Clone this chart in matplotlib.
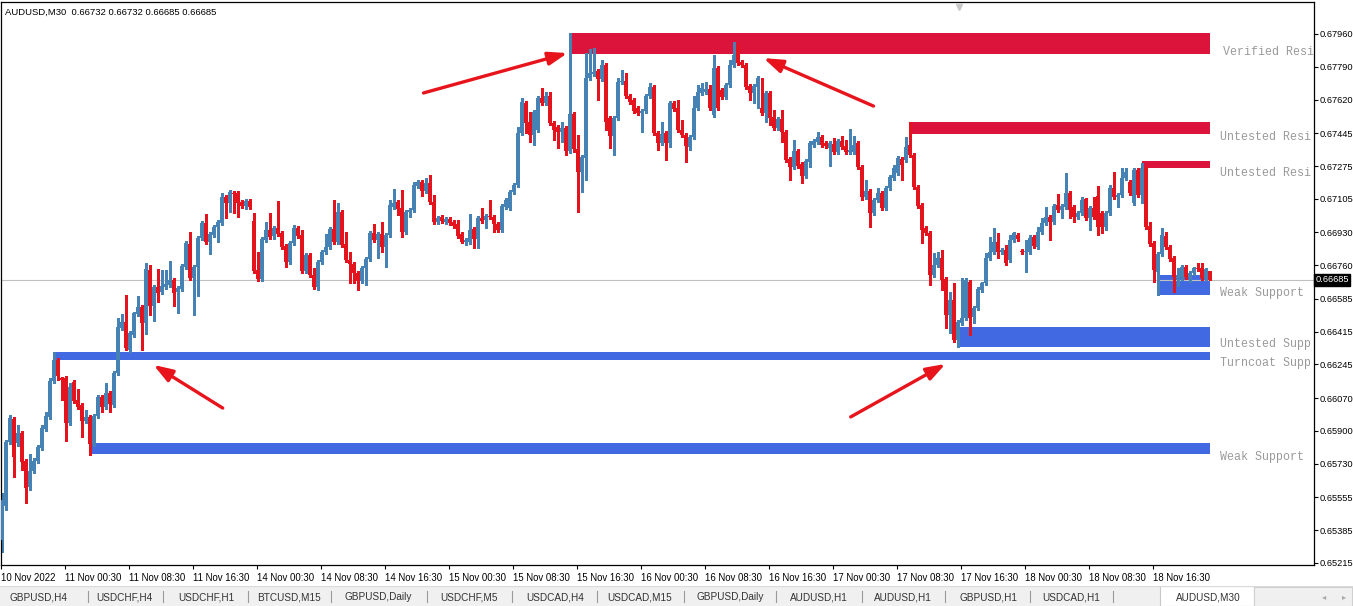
import matplotlib
matplotlib.use("Agg")
import matplotlib.pyplot as plt
import numpy as np
from matplotlib.patches import Rectangle
from matplotlib.transforms import blended_transform_factory, offset_copy

# ---------------- data (AUDUSD M30 candles) ----------------
opens = [
0.65334, 0.65511, 0.65843, 0.65962, 0.65838, 0.65890, 0.65744, 0.65609, 0.65692, 0.65744,
0.65812, 0.65910, 0.65973, 0.66159, 0.66268, 0.66175, 0.66175, 0.65941, 0.66154, 0.66061,
0.66035, 0.65952, 0.65973, 0.65832, 0.65978, 0.66076, 0.66024, 0.66097, 0.66035, 0.66201,
0.66434, 0.66465, 0.66320, 0.66398, 0.66507, 0.66543, 0.66460, 0.66735, 0.66549, 0.66647,
0.66621, 0.66647, 0.66658, 0.66684, 0.66621, 0.66637, 0.66751, 0.66870, 0.66694, 0.66751,
0.66901, 0.66979, 0.66881, 0.66917, 0.66959, 0.66979, 0.67114, 0.67083, 0.67135, 0.67135,
0.67088, 0.67068, 0.67093, 0.66990, 0.66735, 0.66689, 0.66891, 0.66943, 0.66912, 0.66953,
0.66927, 0.66860, 0.66777, 0.66875, 0.66953, 0.66917, 0.66730, 0.66813, 0.66710, 0.66647,
0.66777, 0.66829, 0.66855, 0.66948, 0.66881, 0.67036, 0.66870, 0.66787, 0.66767, 0.66720,
0.66678, 0.66746, 0.66792, 0.66927, 0.66891, 0.66922, 0.66855, 0.66917, 0.67062, 0.67088,
0.67057, 0.66933, 0.67036, 0.67047, 0.67171, 0.67192, 0.67145, 0.67187, 0.67088, 0.66985,
0.67010, 0.66985, 0.67000, 0.66985, 0.66974, 0.66922, 0.66881, 0.66881, 0.66948, 0.66896,
0.67005, 0.66995, 0.67016, 0.67010, 0.66974, 0.66943, 0.67062, 0.67057, 0.67140, 0.67176,
0.67446, 0.67602, 0.67503, 0.67436, 0.67462, 0.67628, 0.67602, 0.67638, 0.67498, 0.67477,
0.67451, 0.67472, 0.67353, 0.67545, 0.67363, 0.67244, 0.67316, 0.67732, 0.67753, 0.67768,
0.67726, 0.67799, 0.67524, 0.67431, 0.67524, 0.67711, 0.67716, 0.67638, 0.67618, 0.67576,
0.67550, 0.67560, 0.67638, 0.67685, 0.67446, 0.67394, 0.67446, 0.67394, 0.67602, 0.67576,
0.67462, 0.67436, 0.67374, 0.67426, 0.67576, 0.67654, 0.67659, 0.67675, 0.67540, 0.67784,
0.67669, 0.67633, 0.67695, 0.67799, 0.67887, 0.67815, 0.67799, 0.67690, 0.67654, 0.67685,
0.67576, 0.67550, 0.67654, 0.67529, 0.67472, 0.67519, 0.67451, 0.67311, 0.67270, 0.67353,
0.67285, 0.67223, 0.67296, 0.67384, 0.67400, 0.67426, 0.67394, 0.67368, 0.67389, 0.67348,
0.67405, 0.67379, 0.67348, 0.67348, 0.67394, 0.67270, 0.67114, 0.67145, 0.67031, 0.67099,
0.67135, 0.67057, 0.67161, 0.67213, 0.67239, 0.67311, 0.67306, 0.67384, 0.67332, 0.67166,
0.67073, 0.66953, 0.66927, 0.66710, 0.66761, 0.66798, 0.66689, 0.66502, 0.66580, 0.66372,
0.66460, 0.66486, 0.66673, 0.66491, 0.66538, 0.66632, 0.66668, 0.66798, 0.66829, 0.66881,
0.66829, 0.66839, 0.66787, 0.66891, 0.66917, 0.66834, 0.66829, 0.66829, 0.66907, 0.66855,
0.66933, 0.66979, 0.67010, 0.66985, 0.67073, 0.67047, 0.67062, 0.67135, 0.67062, 0.67010,
0.67031, 0.67104, 0.67005, 0.67057, 0.67119, 0.67031, 0.66959, 0.67031, 0.67161, 0.67114,
0.67125, 0.67213, 0.67192, 0.67083, 0.67254, 0.67125, 0.67265, 0.66964, 0.66875, 0.66725,
0.66818, 0.66912, 0.66855, 0.66798, 0.66694, 0.66699, 0.66751, 0.66699, 0.66720, 0.66746,
0.66746, 0.66694, 0.66732]

highs = [
0.65578, 0.65853, 0.65983, 0.65973, 0.65931, 0.65900, 0.65755, 0.65781, 0.65760, 0.65827,
0.65931, 0.65998, 0.66175, 0.66310, 0.66279, 0.66180, 0.66185, 0.66149, 0.66165, 0.66118,
0.66045, 0.66009, 0.65983, 0.65988, 0.66087, 0.66087, 0.66149, 0.66107, 0.66211, 0.66486,
0.66507, 0.66606, 0.66419, 0.66517, 0.66600, 0.66554, 0.66772, 0.66761, 0.66658, 0.66741,
0.66735, 0.66735, 0.66782, 0.66694, 0.66652, 0.66767, 0.66886, 0.66933, 0.66761, 0.66912,
0.66990, 0.67026, 0.66933, 0.66969, 0.66995, 0.67135, 0.67125, 0.67151, 0.67145, 0.67145,
0.67099, 0.67104, 0.67104, 0.67031, 0.66829, 0.66907, 0.66985, 0.67031, 0.66964, 0.67093,
0.66938, 0.66870, 0.66886, 0.66969, 0.66964, 0.66943, 0.66824, 0.66824, 0.66746, 0.66787,
0.66839, 0.66922, 0.66959, 0.67099, 0.67083, 0.67047, 0.66933, 0.66829, 0.66777, 0.66730,
0.66756, 0.66803, 0.66938, 0.66974, 0.66933, 0.66985, 0.66927, 0.67099, 0.67156, 0.67099,
0.67151, 0.67047, 0.67057, 0.67192, 0.67202, 0.67202, 0.67213, 0.67228, 0.67125, 0.67016,
0.67021, 0.67010, 0.67010, 0.66995, 0.66995, 0.66933, 0.66901, 0.67026, 0.66959, 0.67016,
0.67057, 0.67026, 0.67099, 0.67021, 0.66985, 0.67078, 0.67109, 0.67151, 0.67187, 0.67477,
0.67628, 0.67612, 0.67555, 0.67566, 0.67638, 0.67680, 0.67659, 0.67659, 0.67508, 0.67488,
0.67503, 0.67482, 0.67965, 0.67555, 0.67436, 0.67332, 0.67862, 0.67882, 0.67887, 0.67778,
0.67825, 0.67810, 0.67534, 0.67534, 0.67732, 0.67773, 0.67758, 0.67649, 0.67628, 0.67586,
0.67571, 0.67649, 0.67706, 0.67695, 0.67457, 0.67503, 0.67457, 0.67612, 0.67612, 0.67618,
0.67514, 0.67446, 0.67436, 0.67638, 0.67695, 0.67706, 0.67711, 0.67695, 0.67851, 0.67794,
0.67680, 0.67706, 0.67825, 0.67918, 0.67908, 0.67825, 0.67810, 0.67700, 0.67700, 0.67742,
0.67732, 0.67664, 0.67664, 0.67566, 0.67529, 0.67566, 0.67462, 0.67322, 0.67410, 0.67363,
0.67296, 0.67311, 0.67405, 0.67415, 0.67451, 0.67436, 0.67405, 0.67405, 0.67420, 0.67415,
0.67431, 0.67410, 0.67467, 0.67431, 0.67405, 0.67280, 0.67202, 0.67156, 0.67109, 0.67161,
0.67145, 0.67171, 0.67228, 0.67280, 0.67327, 0.67322, 0.67426, 0.67503, 0.67342, 0.67176,
0.67083, 0.66964, 0.66938, 0.66824, 0.66829, 0.66839, 0.66699, 0.66621, 0.66668, 0.66476,
0.66694, 0.66694, 0.66684, 0.66549, 0.66647, 0.66673, 0.66824, 0.66907, 0.66953, 0.66927,
0.66850, 0.66865, 0.66917, 0.66933, 0.66927, 0.66844, 0.66891, 0.66917, 0.66917, 0.66959,
0.67005, 0.67062, 0.67021, 0.67078, 0.67130, 0.67078, 0.67239, 0.67145, 0.67073, 0.67042,
0.67114, 0.67109, 0.67068, 0.67114, 0.67171, 0.67042, 0.67042, 0.67176, 0.67244, 0.67135,
0.67265, 0.67265, 0.67202, 0.67265, 0.67265, 0.67291, 0.67275, 0.66985, 0.66886, 0.66829,
0.66953, 0.66933, 0.66865, 0.66808, 0.66746, 0.66761, 0.66761, 0.66730, 0.66751, 0.66772,
0.66772, 0.66746, 0.66732]

lows = [
0.65272, 0.65490, 0.65832, 0.65661, 0.65822, 0.65698, 0.65526, 0.65594, 0.65682, 0.65734,
0.65801, 0.65900, 0.65962, 0.66149, 0.66165, 0.66061, 0.65848, 0.65931, 0.66045, 0.66014,
0.65869, 0.65941, 0.65775, 0.65822, 0.65967, 0.65998, 0.66014, 0.65998, 0.66024, 0.66191,
0.66424, 0.66320, 0.66310, 0.66388, 0.66497, 0.66320, 0.66403, 0.66502, 0.66471, 0.66569,
0.66611, 0.66637, 0.66647, 0.66549, 0.66512, 0.66626, 0.66741, 0.66684, 0.66502, 0.66600,
0.66891, 0.66870, 0.66818, 0.66907, 0.66881, 0.66969, 0.67005, 0.67036, 0.67031, 0.67010,
0.67057, 0.67052, 0.67052, 0.66720, 0.66678, 0.66678, 0.66881, 0.66896, 0.66896, 0.66912,
0.66844, 0.66751, 0.66767, 0.66865, 0.66901, 0.66720, 0.66720, 0.66699, 0.66637, 0.66632,
0.66767, 0.66818, 0.66844, 0.66870, 0.66870, 0.66855, 0.66777, 0.66668, 0.66668, 0.66632,
0.66668, 0.66658, 0.66782, 0.66881, 0.66798, 0.66829, 0.66751, 0.66907, 0.67052, 0.67021,
0.66907, 0.66922, 0.67010, 0.67036, 0.67161, 0.67119, 0.67135, 0.67078, 0.66974, 0.66974,
0.66979, 0.66974, 0.66969, 0.66953, 0.66901, 0.66875, 0.66865, 0.66870, 0.66849, 0.66849,
0.66979, 0.66953, 0.67000, 0.66933, 0.66933, 0.66933, 0.67052, 0.67047, 0.67130, 0.67166,
0.67436, 0.67446, 0.67400, 0.67384, 0.67451, 0.67592, 0.67592, 0.67488, 0.67410, 0.67368,
0.67400, 0.67332, 0.67342, 0.67348, 0.67036, 0.67140, 0.67202, 0.67721, 0.67742, 0.67618,
0.67716, 0.67462, 0.67368, 0.67332, 0.67514, 0.67700, 0.67628, 0.67597, 0.67550, 0.67540,
0.67451, 0.67550, 0.67628, 0.67436, 0.67358, 0.67384, 0.67306, 0.67374, 0.67560, 0.67451,
0.67426, 0.67296, 0.67358, 0.67415, 0.67566, 0.67643, 0.67649, 0.67566, 0.67529, 0.67566,
0.67623, 0.67623, 0.67685, 0.67789, 0.67799, 0.67789, 0.67675, 0.67618, 0.67602, 0.67576,
0.67540, 0.67503, 0.67488, 0.67462, 0.67462, 0.67400, 0.67296, 0.67202, 0.67259, 0.67265,
0.67187, 0.67213, 0.67270, 0.67374, 0.67389, 0.67374, 0.67368, 0.67275, 0.67337, 0.67337,
0.67363, 0.67337, 0.67337, 0.67337, 0.67259, 0.67099, 0.67104, 0.66959, 0.67021, 0.67088,
0.67047, 0.67047, 0.67151, 0.67202, 0.67228, 0.67202, 0.67296, 0.67322, 0.67156, 0.67057,
0.66875, 0.66917, 0.66658, 0.66699, 0.66751, 0.66632, 0.66434, 0.66408, 0.66362, 0.66336,
0.66450, 0.66476, 0.66398, 0.66460, 0.66528, 0.66621, 0.66658, 0.66787, 0.66818, 0.66798,
0.66818, 0.66761, 0.66777, 0.66881, 0.66886, 0.66818, 0.66725, 0.66818, 0.66850, 0.66844,
0.66922, 0.66969, 0.66891, 0.66974, 0.67036, 0.67005, 0.67052, 0.67005, 0.66985, 0.67000,
0.67021, 0.66995, 0.66943, 0.67000, 0.66917, 0.66927, 0.66943, 0.67021, 0.67104, 0.67062,
0.67114, 0.67202, 0.67125, 0.67073, 0.67114, 0.67083, 0.66948, 0.66860, 0.66673, 0.66606,
0.66808, 0.66844, 0.66782, 0.66621, 0.66652, 0.66684, 0.66689, 0.66673, 0.66710, 0.66730,
0.66684, 0.66684, 0.66685]

closes = [
0.65542, 0.65843, 0.65967, 0.65765, 0.65890, 0.65739, 0.65604, 0.65692, 0.65744, 0.65817,
0.65916, 0.65978, 0.66159, 0.66268, 0.66185, 0.66165, 0.65941, 0.66128, 0.66056, 0.66024,
0.65952, 0.65973, 0.65832, 0.65978, 0.66076, 0.66024, 0.66097, 0.66040, 0.66201, 0.66440,
0.66465, 0.66331, 0.66408, 0.66512, 0.66543, 0.66460, 0.66741, 0.66549, 0.66647, 0.66616,
0.66652, 0.66663, 0.66684, 0.66616, 0.66642, 0.66756, 0.66875, 0.66694, 0.66751, 0.66901,
0.66979, 0.66881, 0.66922, 0.66959, 0.66985, 0.67114, 0.67083, 0.67140, 0.67130, 0.67083,
0.67068, 0.67093, 0.67062, 0.66730, 0.66689, 0.66896, 0.66943, 0.66907, 0.66953, 0.66922,
0.66855, 0.66777, 0.66875, 0.66953, 0.66912, 0.66730, 0.66813, 0.66710, 0.66647, 0.66777,
0.66829, 0.66855, 0.66948, 0.66881, 0.67036, 0.66865, 0.66787, 0.66767, 0.66720, 0.66678,
0.66746, 0.66792, 0.66927, 0.66891, 0.66922, 0.66855, 0.66917, 0.67073, 0.67083, 0.67052,
0.66933, 0.67036, 0.67047, 0.67176, 0.67192, 0.67145, 0.67187, 0.67088, 0.66985, 0.67005,
0.66990, 0.67000, 0.66979, 0.66964, 0.66912, 0.66881, 0.66891, 0.66943, 0.66896, 0.67005,
0.66990, 0.67016, 0.67010, 0.66974, 0.66943, 0.67068, 0.67099, 0.67140, 0.67176, 0.67446,
0.67607, 0.67498, 0.67436, 0.67555, 0.67628, 0.67602, 0.67638, 0.67498, 0.67462, 0.67451,
0.67472, 0.67353, 0.67545, 0.67363, 0.67244, 0.67322, 0.67732, 0.67758, 0.67763, 0.67726,
0.67799, 0.67503, 0.67431, 0.67524, 0.67711, 0.67716, 0.67638, 0.67607, 0.67560, 0.67550,
0.67560, 0.67638, 0.67685, 0.67446, 0.67394, 0.67441, 0.67394, 0.67602, 0.67571, 0.67462,
0.67436, 0.67379, 0.67426, 0.67576, 0.67659, 0.67680, 0.67675, 0.67576, 0.67784, 0.67576,
0.67633, 0.67695, 0.67799, 0.67851, 0.67810, 0.67799, 0.67685, 0.67654, 0.67690, 0.67732,
0.67550, 0.67654, 0.67524, 0.67472, 0.67519, 0.67451, 0.67306, 0.67270, 0.67353, 0.67275,
0.67223, 0.67301, 0.67394, 0.67405, 0.67426, 0.67384, 0.67379, 0.67394, 0.67348, 0.67405,
0.67374, 0.67348, 0.67358, 0.67384, 0.67270, 0.67114, 0.67145, 0.67031, 0.67099, 0.67135,
0.67057, 0.67161, 0.67218, 0.67265, 0.67316, 0.67280, 0.67374, 0.67332, 0.67166, 0.67068,
0.66943, 0.66927, 0.66710, 0.66761, 0.66798, 0.66684, 0.66502, 0.66580, 0.66372, 0.66465,
0.66486, 0.66684, 0.66486, 0.66538, 0.66637, 0.66668, 0.66798, 0.66829, 0.66881, 0.66829,
0.66839, 0.66772, 0.66891, 0.66927, 0.66896, 0.66829, 0.66834, 0.66901, 0.66860, 0.66933,
0.66979, 0.67010, 0.66985, 0.67068, 0.67047, 0.67068, 0.67135, 0.67047, 0.67010, 0.67031,
0.67099, 0.67005, 0.67057, 0.67010, 0.66959, 0.66959, 0.67031, 0.67161, 0.67114, 0.67125,
0.67213, 0.67244, 0.67135, 0.67254, 0.67125, 0.67265, 0.66959, 0.66870, 0.66735, 0.66818,
0.66917, 0.66855, 0.66792, 0.66699, 0.66704, 0.66751, 0.66699, 0.66720, 0.66746, 0.66741,
0.66694, 0.66741, 0.66685]

# supply / demand zones
zone_names  = ["Verified Resistance", "Untested Resistance", "Untested Resistance",
               "Weak Support", "Untested Support", "Turncoat Support", "Weak Support"]
zone_kind   = ["res", "res", "res", "sup", "sup", "sup", "sup"]
zone_top    = [0.67965, 0.67503, 0.67301, 0.66709, 0.66440, 0.66310, 0.65838]
zone_bottom = [0.67856, 0.67441, 0.67265, 0.66606, 0.66336, 0.66268, 0.65781]
zone_start  = [142, 227, 285, 289, 239, 13, 22]          # bar index where zone begins
zone_label_price = [0.67868, 0.67427, 0.67241, 0.66615, 0.66350, 0.66251, 0.65767]

# red annotation arrows (bar index, price)
arrow_tail = [(105.4, 0.67654), (217.9, 0.67586), (55.2, 0.66019), (212.2, 0.65973)]
arrow_head = [(141.4, 0.67861), (190.4, 0.67835), (37.9, 0.66243), (235.9, 0.66248)]

ytick_values = [0.67960, 0.67790, 0.67620, 0.67445, 0.67275, 0.67105, 0.66930, 0.66760,
                0.66585, 0.66415, 0.66245, 0.66070, 0.65900, 0.65730, 0.65555, 0.65385, 0.65215]
xtick_bars = [0, 16, 32, 48, 64, 80, 96, 112, 128, 144, 160, 176, 192, 208, 224, 240, 256, 272, 288]
xtick_labels = ["10 Nov 2022", "11 Nov 00:30", "11 Nov 08:30", "11 Nov 16:30", "14 Nov 00:30",
                "14 Nov 08:30", "14 Nov 16:30", "15 Nov 00:30", "15 Nov 08:30", "15 Nov 16:30",
                "16 Nov 00:30", "16 Nov 08:30", "16 Nov 16:30", "17 Nov 00:30", "17 Nov 08:30",
                "17 Nov 16:30", "18 Nov 00:30", "18 Nov 08:30", "18 Nov 16:30"]

tab_names = ["GBPUSD,H4", "USDCHF,H4", "USDCHF,H1", "BTCUSD,M15", "GBPUSD,Daily", "USDCHF,M5",
             "USDCAD,H4", "USDCAD,M15", "GBPUSD,Daily", "AUDUSD,H1", "AUDUSD,H1", "GBPUSD,H1",
             "USDCAD,H1", "AUDUSD,M30"]

# ---------------- drawing ----------------
plt.rcParams['font.family'] = ['Liberation Sans', 'DejaVu Sans']

W, H = 1353, 606
fig = plt.figure(figsize=(W / 100, H / 100), dpi=100)
fig.patch.set_facecolor('white')

AX_W_PX = 1313
ax = fig.add_axes([0.6 / W, 41 / H, AX_W_PX / W, 563 / H])
ax.set_facecolor('white')
XMIN, XMAX = -0.325, 327.925
ax.set_xlim(XMIN, XMAX)
ax.set_ylim(0.652046, 0.681260)

BULL = '#4682b4'
BEAR = '#e3141e'
RES = '#dc143c'
SUP = '#4169e1'
ARROW = '#e8141c'

o = np.array(opens); h = np.array(highs); l = np.array(lows); c = np.array(closes)
x = np.arange(len(c))
last = len(c) - 1

# zones
for name, kind, top, bot, start in zip(zone_names, zone_kind, zone_top, zone_bottom, zone_start):
    ax.add_patch(Rectangle((start, bot), last - start, top - bot,
                           facecolor=RES if kind == 'res' else SUP, edgecolor='none',
                           zorder=1, antialiased=False))

# current price line
ax.axhline(c[-1], color='#c0c0c0', lw=0.8, zorder=1.5)

# candles
cols = [BULL if cc >= oo else BEAR for oo, cc in zip(o, c)]
ax.vlines(x, l, h, colors=cols, linewidth=0.8, zorder=2, antialiased=False)
ax.bar(x, np.maximum(np.abs(c - o), 0.00005), bottom=np.minimum(o, c), width=0.8,
       color=cols, linewidth=0, zorder=3, antialiased=False)

# zone labels (monospace, cut off by the price scale like the terminal does)
CHAR_PX = 7.0
px_per_bar = AX_W_PX / (XMAX - XMIN)
for i, (name, yp) in enumerate(zip(zone_names, zone_label_price)):
    xl = 305.2 if i == 0 else 304.4
    start_px = (xl - XMIN) * px_per_bar
    nfit = int((AX_W_PX - start_px) / CHAR_PX + 0.4)
    ax.text(xl, yp, name[:nfit], fontfamily='Liberation Mono', fontsize=8.4, color='#9a9a9a',
            va='center', ha='left', clip_on=True, zorder=4)

# arrows
for t, hd in zip(arrow_tail, arrow_head):
    ax.annotate('', xy=hd, xytext=t,
                arrowprops=dict(arrowstyle='-|>,head_length=0.95,head_width=0.33',
                                color=ARROW, lw=2.4, shrinkA=0, shrinkB=0,
                                mutation_scale=12), zorder=5)

# axes styling
for sp in ax.spines.values():
    sp.set_color('black')
    sp.set_linewidth(0.9)
ax.yaxis.tick_right()
ax.set_yticks(ytick_values)
ax.set_yticklabels([f"{v:.5f}" for v in ytick_values])
ax.tick_params(axis='y', which='both', direction='out', length=3, width=0.8, pad=1.5,
               labelsize=6.7, right=True, left=False, colors='black')
ax.set_xticks([b - 0.3 for b in xtick_bars])
ax.set_xticklabels(xtick_labels)
ax.tick_params(axis='x', direction='out', length=3, width=0.8, pad=2.5, labelsize=6.9,
               colors='black')
for lbl in ax.get_xticklabels():
    lbl.set_horizontalalignment('left')

# current price tag
trans = blended_transform_factory(ax.transAxes, ax.transData)
ax.text(1.0, c[-1], f"{c[-1]:.5f}", transform=offset_copy(trans, fig=fig, x=2, y=0, units='dots'),
        ha='left', va='center', color='white', fontsize=6.7, clip_on=False, zorder=10,
        bbox=dict(boxstyle='square,pad=0.15', fc='black', ec='black'))

# small shift marker at top
ax.plot([239.2], [0.992], marker='v', ms=4, color='#c8c8c8',
        transform=blended_transform_factory(ax.transData, ax.transAxes), clip_on=False)

# header
fig.text(5 / W, 1 - 12.5 / H,
         f"AUDUSD,M30  {opens[-1]:.5f} {highs[-1]:.5f} {lows[-1]:.5f} {closes[-1]:.5f}",
         fontsize=6.8, ha='left', va='center', color='black')

# ---------------- tab bar ----------------
tab = fig.add_axes([0, 0, 1, 20 / H])
tab.set_xlim(0, W)
tab.set_ylim(0, 20)
tab.set_facecolor('#f0f0f0')
tab.set_xticks([]); tab.set_yticks([])
for sp in tab.spines.values():
    sp.set_visible(False)
tab.axhline(19.7, color='#d9d9d9', lw=0.8)
tab_centers = [39, 124, 206, 289, 378, 469, 555, 640, 730, 819, 903, 988, 1071, 1208]
sep_x = [88, 163, 248, 331, 427, 512, 597, 684, 776, 862, 945, 1030, 1113]
tab.add_patch(Rectangle((1160, 0), 94, 20, facecolor='white', edgecolor='#c8c8c8', lw=0.8))
tab.add_patch(Rectangle((1254, 0.5), 98, 19, facecolor='#f0f0f0', edgecolor='#d0d0d0', lw=0.8))
for name, cx in zip(tab_names, tab_centers):
    tab.text(cx, 9, name, ha='center', va='center', fontsize=7.2, color='#333333')
for sx in sep_x:
    tab.plot([sx, sx], [4, 15], color='#9a9a9a', lw=0.8)
tab.text(1324, 9.5, '\u25c2', ha='center', va='center', fontsize=6, color='#a8a8a8',
         fontfamily='DejaVu Sans')
tab.text(1344, 9.5, '\u25b8', ha='center', va='center', fontsize=6, color='#a8a8a8',
         fontfamily='DejaVu Sans')

fig.savefig('out.png', dpi=100, facecolor='white')
